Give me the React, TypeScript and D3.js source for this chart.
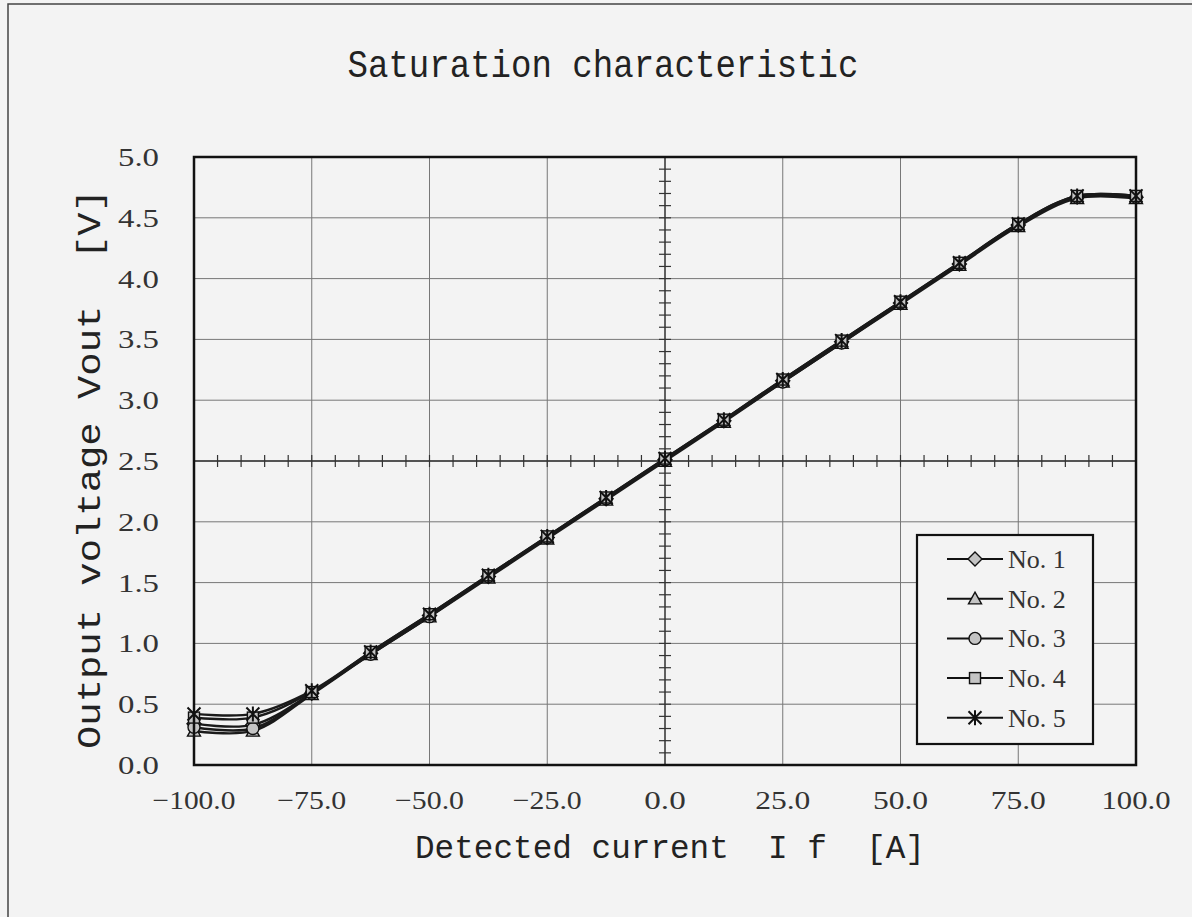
import React from "react";
import * as d3 from "d3";

const X_VALUES = [-100, -87.5, -75, -62.5, -50, -37.5, -25, -12.5, 0, 12.5, 25, 37.5, 50, 62.5, 75, 87.5, 100];
const SERIES_NAMES = ["No. 1", "No. 2", "No. 3", "No. 4", "No. 5"];
const NO1 = [0.34, 0.33, 0.59, 0.92, 1.23, 1.55, 1.87, 2.19, 2.51, 2.83, 3.16, 3.48, 3.80, 4.12, 4.44, 4.67, 4.67];
const NO2 = [0.28, 0.28, 0.58, 0.91, 1.22, 1.54, 1.86, 2.18, 2.50, 2.82, 3.15, 3.47, 3.79, 4.11, 4.43, 4.66, 4.66];
const NO3 = [0.31, 0.30, 0.59, 0.91, 1.22, 1.55, 1.87, 2.19, 2.51, 2.83, 3.15, 3.47, 3.80, 4.12, 4.44, 4.67, 4.67];
const NO4 = [0.39, 0.39, 0.60, 0.93, 1.24, 1.56, 1.88, 2.20, 2.52, 2.84, 3.17, 3.49, 3.81, 4.13, 4.45, 4.68, 4.68];
const NO5 = [0.42, 0.42, 0.61, 0.93, 1.24, 1.56, 1.88, 2.20, 2.52, 2.84, 3.17, 3.49, 3.81, 4.13, 4.45, 4.68, 4.68];
const SERIES = [NO1, NO2, NO3, NO4, NO5];
const MARKERS = ["diamond", "triangle", "circle", "square", "asterisk"];
const X_TICKS = [-100, -75, -50, -25, 0, 25, 50, 75, 100];
const Y_TICKS = [0, 0.5, 1, 1.5, 2, 2.5, 3, 3.5, 4, 4.5, 5];
const TITLE = "Saturation characteristic";
const X_LABEL = "Detected current  I f  [A]";
const Y_LABEL = "Output voltage Vout  [V]";

const W = 1192, H = 917;
const PL = 194, PR = 1136, PT = 157, PB = 765;
const FONT = "'Liberation Mono', 'DejaVu Sans Mono', monospace";
const SERIF = "'Liberation Serif', 'DejaVu Serif', serif";
const BG = "#f3f3f3";
const FILL = "#c4c4c4";

function Marker({ type, x, y }: { type: string; x: number; y: number }) {
  const sw = 1.4;
  if (type === "diamond") {
    const r = 7;
    return <path d={`M${x},${y - r}L${x + r},${y}L${x},${y + r}L${x - r},${y}Z`} fill={FILL} stroke="#111" strokeWidth={sw} />;
  }
  if (type === "triangle") {
    const r = 6.5;
    return <path d={`M${x},${y - r}L${x + r},${y + r * 0.8}L${x - r},${y + r * 0.8}Z`} fill={FILL} stroke="#111" strokeWidth={sw} />;
  }
  if (type === "circle") {
    return <circle cx={x} cy={y} r={6} fill={FILL} stroke="#111" strokeWidth={sw} />;
  }
  if (type === "square") {
    const r = 5.5;
    return <rect x={x - r} y={y - r} width={2 * r} height={2 * r} fill={FILL} stroke="#111" strokeWidth={sw} />;
  }
  const r = 6.5;
  return (
    <path
      d={`M${x - r},${y - r}L${x + r},${y + r}M${x + r},${y - r}L${x - r},${y + r}M${x},${y - r - 1}L${x},${y + r + 1}`}
      stroke="#111"
      strokeWidth={2}
      fill="none"
    />
  );
}

export default function App() {
  const x = d3.scaleLinear().domain([-100, 100]).range([PL, PR]);
  const y = d3.scaleLinear().domain([0, 5]).range([PB, PT]);
  const xFmt = d3.format(".1f");
  const yFmt = d3.format(".1f");
  const line = d3
    .line<number>()
    .x((_, i) => x(X_VALUES[i]))
    .y((d) => y(d))
    .curve(d3.curveCatmullRom.alpha(0.5));

  const minorY = d3.range(0, 5.0001, 0.1);
  const minorX = d3.range(-100, 100.0001, 5);
  const x0 = x(0), y25 = y(2.5);

  const legX = 917, legY = 535, legW = 176, legH = 209;
  const rowY = (i: number) => 559 + i * 39.7;

  return (
    <svg width={W} height={H} style={{ position: "absolute", left: 0, top: 0, background: BG }}>
      <rect x={0} y={0} width={W} height={H} fill={BG} />
      <rect x={8} y={4} width={W + 20} height={H + 20} fill="none" stroke="#444" strokeWidth={1.5} />
      <text x={603} y={77} textAnchor="middle" fontFamily={FONT} fontSize={38} textLength={511} lengthAdjust="spacingAndGlyphs" fill="#222" style={{ whiteSpace: "pre" }}>
        {TITLE}
      </text>
      {/* grid */}
      {X_TICKS.slice(1, -1).map((t) => (
        <line key={"gx" + t} x1={x(t)} x2={x(t)} y1={PT} y2={PB} stroke="#777" strokeWidth={1} />
      ))}
      {Y_TICKS.slice(1, -1).map((t) => (
        <line key={"gy" + t} x1={PL} x2={PR} y1={y(t)} y2={y(t)} stroke="#777" strokeWidth={1} />
      ))}
      {/* cross axes */}
      <line x1={x0} x2={x0} y1={PT} y2={PB} stroke="#333" strokeWidth={1.3} />
      <line x1={PL} x2={PR} y1={y25} y2={y25} stroke="#333" strokeWidth={1.3} />
      {minorY.map((v, i) => (
        <line key={"my" + i} x1={x0 - 6} x2={x0 + 6} y1={y(v)} y2={y(v)} stroke="#333" strokeWidth={1.2} />
      ))}
      {minorX.map((v, i) => (
        <line key={"mx" + i} x1={x(v)} x2={x(v)} y1={y25 - 6} y2={y25 + 6} stroke="#333" strokeWidth={1.2} />
      ))}
      {/* series lines */}
      {SERIES.map((s, si) => (
        <path key={"l" + si} d={line(s) || ""} fill="none" stroke="#1a1a1a" strokeWidth={2.4} />
      ))}
      {/* markers */}
      {SERIES.map((s, si) =>
        s.map((v, i) => <Marker key={"m" + si + "_" + i} type={MARKERS[si]} x={x(X_VALUES[i])} y={y(v)} />)
      )}
      {/* plot border */}
      <rect x={PL} y={PT} width={PR - PL} height={PB - PT} fill="none" stroke="#111" strokeWidth={2.5} />
      {/* y tick labels */}
      {Y_TICKS.map((t) => (
        <text key={"yt" + t} x={159} y={y(t) + 9} textAnchor="end" fontFamily={SERIF} fontSize={26} textLength={41} lengthAdjust="spacingAndGlyphs" fill="#333">
          {yFmt(t)}
        </text>
      ))}
      {X_TICKS.map((t) => {
        const s = xFmt(t);
        return (
          <text key={"xt" + t} x={x(t)} y={809} textAnchor="middle" fontFamily={SERIF} fontSize={26} textLength={s.length * 13.8} lengthAdjust="spacingAndGlyphs" fill="#333">
            {s}
          </text>
        );
      })}
      <text x={670} y={858} textAnchor="middle" fontFamily={FONT} fontSize={34} textLength={510} lengthAdjust="spacingAndGlyphs" fill="#222" style={{ whiteSpace: "pre" }}>
        {X_LABEL}
      </text>
      <text
        transform={`translate(100,469) rotate(-90)`}
        x={0}
        y={0}
        textAnchor="middle"
        fontFamily={FONT}
        fontSize={34}
        textLength={560}
        lengthAdjust="spacingAndGlyphs"
        fill="#222"
        style={{ whiteSpace: "pre" }}
      >
        {Y_LABEL}
      </text>
      {/* legend */}
      <rect x={legX} y={legY} width={legW} height={legH} fill={BG} stroke="#111" strokeWidth={2.2} />
      {SERIES_NAMES.map((n, i) => (
        <g key={"lg" + i}>
          <line x1={947} x2={1003} y1={rowY(i)} y2={rowY(i)} stroke="#111" strokeWidth={2} />
          <Marker type={MARKERS[i]} x={975} y={rowY(i)} />
          <text x={1008} y={rowY(i) + 9} fontFamily={SERIF} fontSize={26} fill="#333" style={{ whiteSpace: "pre" }}>
            {n}
          </text>
        </g>
      ))}
    </svg>
  );
}
